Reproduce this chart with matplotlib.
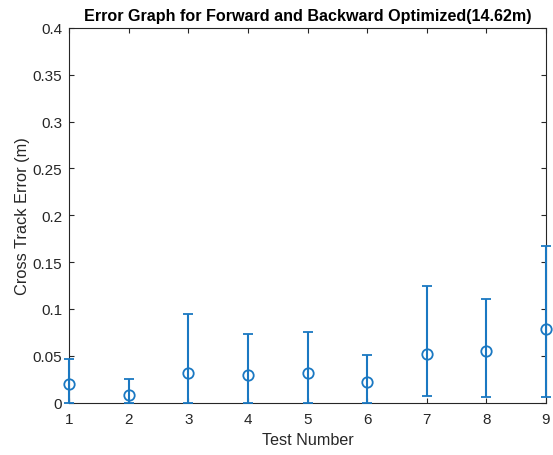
import matplotlib
matplotlib.use("Agg")
import matplotlib.pyplot as plt
import numpy as np

plt.rcParams['font.family'] = ['Liberation Sans', 'DejaVu Sans']

tests = [1, 2, 3, 4, 5, 6, 7, 8, 9]
mean_err = [0.020, 0.008, 0.032, 0.029, 0.032, 0.022, 0.052, 0.055, 0.079]
upper_bound = [0.046, 0.025, 0.094, 0.073, 0.075, 0.051, 0.124, 0.111, 0.167]
lower_bound = [0.0, 0.0, 0.0, 0.0, 0.0, 0.0, 0.007, 0.006, 0.006]

x = np.array(tests)
m = np.array(mean_err)
yerr = [m - np.array(lower_bound), np.array(upper_bound) - m]

fig = plt.figure(figsize=(5.53, 4.56), dpi=100)
ax = fig.add_axes([69/553, 1-403.5/456, (546-69)/553, (403.5-29)/456])

blue = '#1a78c2'
cont = ax.errorbar(x, m, yerr=yerr, fmt='o', color=blue, mfc='none', mec=blue,
                   markersize=7.5, mew=1.3, elinewidth=1.5, capsize=3.6,
                   capthick=1.5, zorder=3)
for art in cont.lines[1] + cont.lines[2] + (cont.lines[0],):
    art.set_clip_on(False)

ax.set_xlim(1, 9)
ax.set_ylim(0, 0.4)
ax.set_xticks(tests)
ax.set_yticks([0, 0.05, 0.1, 0.15, 0.2, 0.25, 0.3, 0.35, 0.4])
ax.set_yticklabels(['0', '0.05', '0.1', '0.15', '0.2', '0.25', '0.3', '0.35', '0.4'])

dark = '#262626'
for s in ax.spines.values():
    s.set_color(dark)
    s.set_linewidth(0.8)
ax.tick_params(direction='in', length=3.5, width=0.8, color=dark,
               labelcolor=dark, labelsize=11, top=True, right=True, pad=5)
ax.tick_params(axis='x', pad=7)

ax.set_xlabel('Test Number', fontsize=11.6, color=dark, labelpad=4)
ax.set_ylabel('Cross Track Error (m)', fontsize=11.8, color=dark, labelpad=2)
ax.set_title('Error Graph for Forward and Backward Optimized(14.62m)',
             fontsize=11.6, fontweight='bold', color='black', pad=6)

fig.savefig('out.png', dpi=100)
